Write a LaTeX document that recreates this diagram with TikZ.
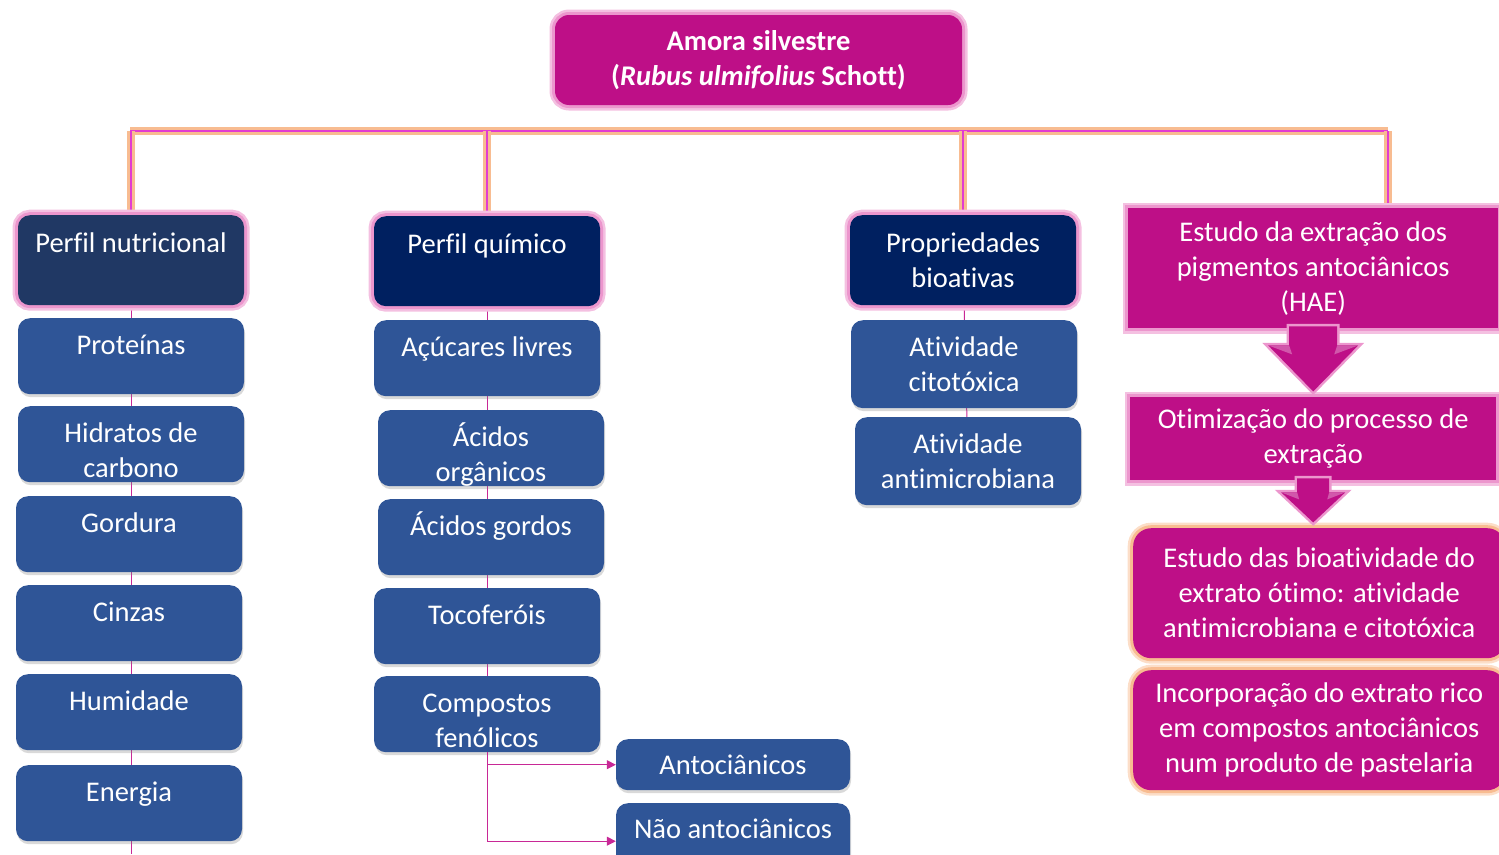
\documentclass[tikz,border=0pt]{standalone}
\usepackage{fontspec}
\setmainfont{Carlito}[Ligatures=NoCommon]
\usetikzlibrary{arrows.meta,shadows}
\pgfdeclarelayer{background}
\pgfsetlayers{background,main}

\definecolor{amora}{RGB}{190,15,135}
\definecolor{navyA}{RGB}{32,56,100}
\definecolor{navyB}{RGB}{0,32,96}
\definecolor{itemblue}{RGB}{47,85,151}
\definecolor{glowpink}{RGB}{236,150,205}
\definecolor{gloworange}{RGB}{252,222,200}
\definecolor{gloworangeB}{RGB}{248,188,145}
\definecolor{buspink}{RGB}{225,60,210}
\definecolor{spine}{RGB}{200,40,150}

\tikzstyle{base}=[font=\fontsize{28.5}{35}\selectfont, text=white, align=center, inner sep=0pt]
\tikzstyle{pinkglow}=[preaction={draw=glowpink!60!white, line width=11pt}, preaction={draw=glowpink, line width=6pt}]
\tikzstyle{orangeglow}=[preaction={draw=gloworange, line width=11pt}, preaction={draw=gloworangeB, line width=6pt}]
\tikzstyle{title}=[base, pinkglow, fill=amora, rounded corners=14pt, minimum width=407pt, minimum height=90pt, font=\fontsize{28.5}{35}\selectfont\bfseries]
\tikzstyle{header}=[base, pinkglow, rounded corners=12pt, minimum width=226pt, anchor=north, text height=37pt, text depth=53pt]
\tikzstyle{item}=[base, fill=itemblue, rounded corners=12pt, minimum width=226pt, anchor=north, text height=36pt, text depth=40pt, drop shadow={shadow xshift=1pt, shadow yshift=-3pt, opacity=0.3}]
\tikzstyle{twolines}=[text height=71pt, text depth=5pt]
\tikzstyle{stage}=[base, pinkglow, fill=amora, anchor=north west]
\tikzstyle{result}=[base, orangeglow, fill=amora, rounded corners=18pt, anchor=north west]
\tikzstyle{blockarrow}=[fill=amora, line join=round, preaction={draw=glowpink, line width=5pt}]
\tikzstyle{facet}=[fill=amora!70!white]
\tikzstyle{bus}=[draw=buspink, line width=2.5pt, preaction={draw=gloworangeB, line width=8pt}]
\tikzstyle{spine}=[draw=spine, line width=1pt]
\tikzstyle{branch}=[draw=spine, line width=1pt, -{Triangle[length=9pt, width=9pt]}]

\begin{document}
\begin{tikzpicture}[x=1pt, y=-1pt]
				\useasboundingbox (0,0) rectangle (1499,854);
				\coordinate (busL) at (130,131);
				\coordinate (busR) at (1388,131);
				\coordinate (pageBottom) at (0,854);

				% Title
				\node[title] (amora) at (758.5,60) {Amora silvestre\\(\textit{Rubus ulmifolius} Schott)};

				% Headers of the four branches
				\node[header, fill=navyA] (nutri) at (131,215) {Perfil nutricional};
				\node[header, fill=navyB] (quim) at (487,216) {Perfil químico};
				\node[header, fill=navyB, text height=72pt, text depth=18pt] (bioat) at (963,215) {Propriedades\\bioativas};

				% Items under each header
				\foreach \pos/\name/\txt in {{(131,318)/prot/Proteínas}, {(129,496)/gord/Gordura},
										{(129,585)/cinz/Cinzas}, {(129,674)/humid/Humidade},
										{(129,765)/energ/Energia}, {(487,320)/acuc/Açúcares livres},
										{(491,499)/agord/Ácidos gordos}, {(487,588)/tocof/Tocoferóis}}
				\node[item] (\name) at \pos {\txt};

				\foreach \pos/\name/\txt in {{(131,406)/hidr/{Hidratos de\\carbono}}, {(491,410)/aorg/{Ácidos\\orgânicos}},
										{(487,676)/fenol/{Compostos\\fenólicos}}}
				\node[item, twolines] (\name) at \pos {\txt};

				\foreach \pos/\name/\txt in {{(964,320)/citot/{Atividade\\citotóxica}}, {(968,417)/antim/{Atividade\\antimicrobiana}}}
				\node[item, twolines, text depth=17pt] (\name) at \pos {\txt};

				\node[item, minimum width=234pt, text height=35pt, text depth=16pt] (antoc) at (733,739) {Antociânicos};
				\node[item, minimum width=234pt, text height=35pt, text depth=41pt] (naoantoc) at (733,803) {Não antociânicos};

				% Extraction study
				\node[stage, minimum width=370pt, minimum height=120pt] (hae) at (1128,208) {Estudo da extração dos\\pigmentos antociânicos\\(HAE)};
				\node[stage, minimum width=366pt, minimum height=83pt] (otim) at (1130,397) {Otimização do processo de\\extração};
				\node[result, minimum width=372pt, minimum height=130pt] (estbio) at (1133,528) {Estudo das bioatividade do\\extrato ótimo: atividade\\antimicrobiana e citotóxica};
				\node[result, minimum width=372pt, minimum height=120pt] (incorp) at (1133,670) {Incorporação do extrato rico\\em compostos antociânicos\\num produto de pastelaria};

				% Block arrows between the stages
				\fill[blockarrow] (hae.south) ++(-24,-2) -- ++(0,19) -- ++(-21,0) -- ++(45,46) -- ++(45,-46) -- ++(-21,0) -- ++(0,-19) -- cycle;
				\fill[facet] (hae.south) ++(-45,17) -- ++(21,0) -- ++(3,9) -- cycle;
				\fill[facet] (hae.south) ++(45,17) -- ++(-21,0) -- ++(-3,9) -- cycle;
				\fill[blockarrow] (otim.south) ++(-16,-2) -- ++(0,14) -- ++(-16,0) -- ++(32,30) -- ++(32,-30) -- ++(-16,0) -- ++(0,-14) -- cycle;
				\fill[facet] (otim.south) ++(-32,12) -- ++(16,0) -- ++(2,7) -- cycle;
				\fill[facet] (otim.south) ++(32,12) -- ++(-16,0) -- ++(-2,7) -- cycle;

				% Connectors
				\begin{pgfonlayer}{background}
				\path[bus] (busL) -- (busR);
				\foreach \name in {nutri, quim, bioat}
				\path[bus] (\name.north |- busL) -- (\name.north);
				\path[bus] (busR) -- (busR |- hae.north);

				\path[spine] (nutri) -- (nutri |- pageBottom);
				\path[spine] (quim) -- (fenol);
				\path[spine] (bioat) -- (antim);
				\end{pgfonlayer}

				\path[branch] (fenol.south) |- (antoc.west);
				\path[branch] (fenol.south) |- (naoantoc.west);
\end{tikzpicture}
\end{document}
